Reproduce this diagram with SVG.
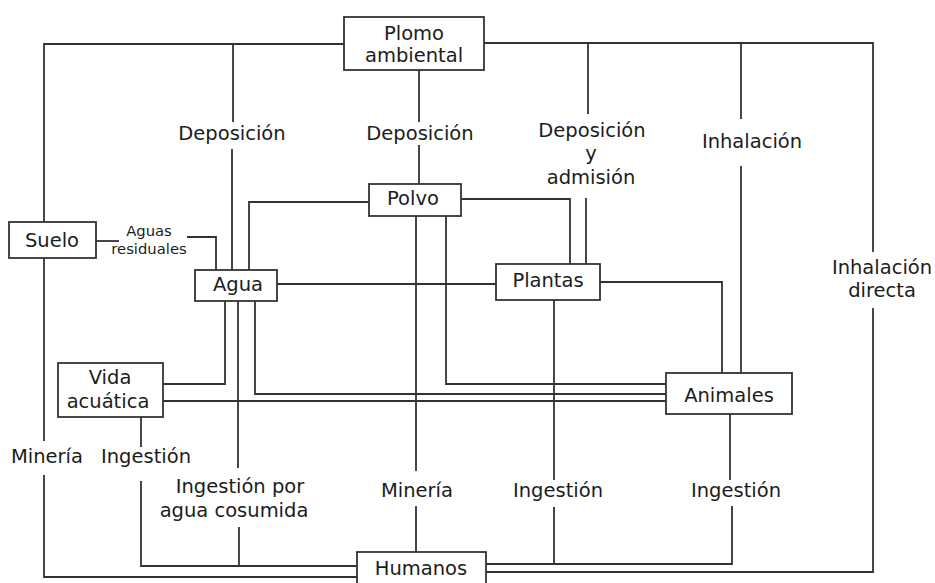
<svg xmlns="http://www.w3.org/2000/svg" width="935" height="583" viewBox="0 0 935 583">
<style>
.box{fill:#fff;stroke:#333;stroke-width:1.8}
.ln{fill:none;stroke:#333;stroke-width:1.8}
text{font-family:"DejaVu Sans",Verdana,sans-serif;font-size:19.5px;fill:#1c1c1c;text-anchor:middle}
.sm{font-size:14.8px}
</style>
<rect width="935" height="583" fill="#fff"/>
<g id="connectors">
<polyline class="ln" points="344,44 44,44 44,258"/>
<polyline class="ln" points="44,258 44,441"/>
<polyline class="ln" points="44,475 44,577 357,577"/>
<polyline class="ln" points="484,43 873,43 873,252"/>
<polyline class="ln" points="873,308 873,572 486,572"/>
<polyline class="ln" points="233,44 233,122"/>
<polyline class="ln" points="232,149 232,270"/>
<polyline class="ln" points="419,70 419,122"/>
<polyline class="ln" points="419,145 419,184"/>
<polyline class="ln" points="588,43 588,114"/>
<polyline class="ln" points="586,198 586,264"/>
<polyline class="ln" points="741,43 741,119"/>
<polyline class="ln" points="741,166 741,373"/>
<polyline class="ln" points="96,241 119,241"/>
<polyline class="ln" points="187,237 216,237 216,270"/>
<polyline class="ln" points="369,202 249,202 249,270"/>
<polyline class="ln" points="461,199 570,199 570,264"/>
<polyline class="ln" points="277,284 496,284"/>
<polyline class="ln" points="600,282 722,282 722,373"/>
<polyline class="ln" points="416,216 416,471"/>
<polyline class="ln" points="416,506 416,552"/>
<polyline class="ln" points="446,216 446,384 666,384"/>
<polyline class="ln" points="225,301 225,384 163,384"/>
<polyline class="ln" points="238,301 238,468"/>
<polyline class="ln" points="239,527 239,566"/>
<polyline class="ln" points="255,301 255,394 666,394"/>
<polyline class="ln" points="161,401 666,401"/>
<polyline class="ln" points="141,417 141,447"/>
<polyline class="ln" points="141,481 141,566 357,566"/>
<polyline class="ln" points="554,300 554,480"/>
<polyline class="ln" points="554,507 554,564"/>
<polyline class="ln" points="730,414 730,480"/>
<polyline class="ln" points="732,506 732,564 486,564"/>
</g>
<g id="labels">
<text x="232" y="140">Deposición</text>
<text x="420" y="140">Deposición</text>
<text x="592" y="137">Deposición</text>
<text x="591" y="160">y</text>
<text x="591" y="184">admisión</text>
<text x="752" y="148">Inhalación</text>
<text x="882" y="274">Inhalación</text>
<text x="882" y="297">directa</text>
<text class="sm" x="149" y="236">Aguas</text>
<text class="sm" x="149" y="254">residuales</text>
<text x="47" y="463">Minería</text>
<text x="146" y="463">Ingestión</text>
<text x="240" y="493">Ingestión por</text>
<text x="234" y="517">agua cosumida</text>
<text x="417" y="497">Minería</text>
<text x="558" y="497">Ingestión</text>
<text x="736" y="497">Ingestión</text>
</g>
<g id="plomo"><rect class="box" x="344" y="17" width="140" height="53"/><text x="414" y="40">Plomo</text><text x="414" y="62">ambiental</text></g>
<g id="suelo"><rect class="box" x="9" y="222" width="87" height="36"/><text x="52" y="247">Suelo</text></g>
<g id="polvo"><rect class="box" x="369" y="184" width="92" height="32"/><text x="413" y="205">Polvo</text></g>
<g id="agua"><rect class="box" x="195" y="270" width="82" height="31"/><text x="238" y="291">Agua</text></g>
<g id="plantas"><rect class="box" x="496" y="264" width="104" height="36"/><text x="548" y="287">Plantas</text></g>
<g id="vida"><rect class="box" x="58" y="363" width="105" height="54"/><text x="110" y="384">Vida</text><text x="108" y="408">acuática</text></g>
<g id="animales"><rect class="box" x="666" y="373" width="126" height="41"/><text x="729" y="402">Animales</text></g>
<g id="humanos"><rect class="box" x="357" y="552" width="129" height="40"/><text x="421" y="575">Humanos</text></g>
</svg>
